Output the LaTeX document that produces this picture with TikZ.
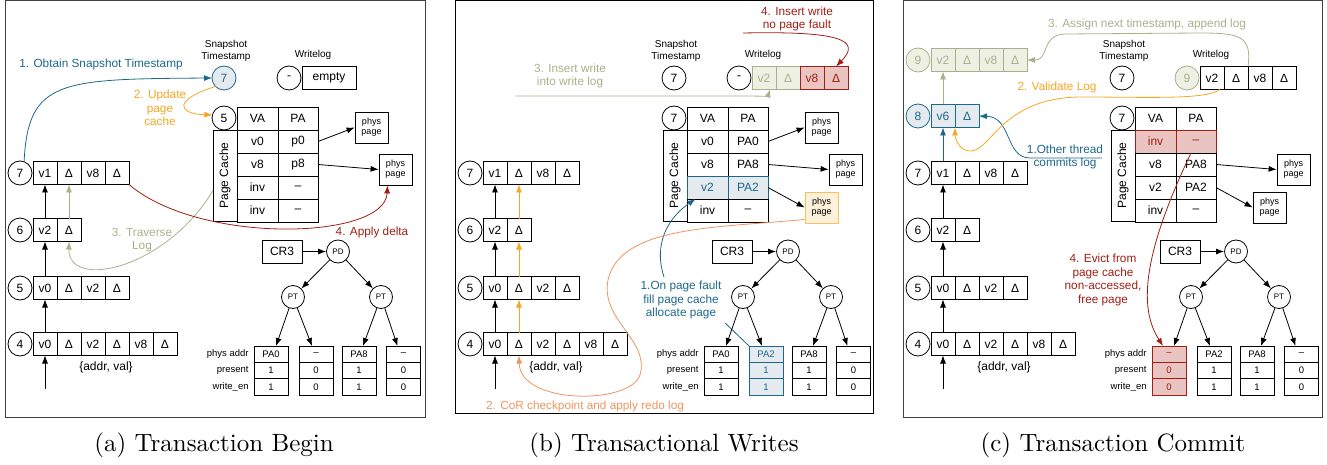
\documentclass[tikz,border=0pt]{standalone}
\usepackage{fontspec}
\newfontfamily\diagfont{Liberation Sans}
\newfontfamily\capfont{lmroman10-regular.otf}
\usetikzlibrary{arrows.meta,positioning}

\definecolor{stepblue}{RGB}{28,104,140}
\definecolor{blueFill}{RGB}{228,234,238}
\definecolor{updorange}{RGB}{245,166,35}
\definecolor{corange}{RGB}{238,148,95}
\definecolor{pageOrange}{RGB}{247,190,100}
\definecolor{pageFill}{RGB}{253,241,218}
\definecolor{dred}{RGB}{160,30,20}
\definecolor{redFill}{RGB}{234,196,192}
\definecolor{logolive}{RGB}{172,175,138}
\definecolor{oliveFill}{RGB}{238,240,228}

\newcommand\dgcell{\diagfont\fontsize{12}{14}\selectfont}
\newcommand\dgnote{\diagfont\fontsize{11.8}{13.7}\selectfont}
\newcommand\dglab{\diagfont\fontsize{10}{11.5}\selectfont}
\newcommand\dgsmall{\diagfont\fontsize{9}{10}\selectfont}
\newcommand\dgtiny{\diagfont\fontsize{8}{9}\selectfont}

% version row: circle + cells
\newcommand\verrow[7][]{%
  \node[ver,#7,#1] (#2) at (#3,#4) {#5};
  \foreach \t [count=\i] in {#6}
    \node[cell,#7] (#2-\i) at (#3+1+24*\i,#4) {\t};
}
% page cache row: VA | PA
\newcommand\pcrow[6]{%
  \node[pcell,#6] (#1-1) at (#2+20.5,#3) {#4};
  \node[pcell,#6,minimum width=40] (#1-2) at (#2+61,#3) {#5};
}
% page table leaf: phys addr / present / write_en
\newcommand\leafcol[6]{%
  \node[leaf,#6] (#1-1) at (#2,354.2) {#3};
  \node[leaf,#6] (#1-2) at (#2,370.6) {#4};
  \node[leaf,#6] (#1-3) at (#2,387) {#5};
}

\begin{document}
\begin{tikzpicture}[x=1pt,y=-1pt,font=\diagfont,line width=0.8pt,
    >={Latex[length=8pt,width=6pt]}]
    \tikzset{cell/.style={draw, minimum width=24, minimum height=23
    , inner sep=0, outer sep=0, font=\dgcell
      },
    ver/.style={draw, circle, minimum size=24, inner sep=0, outer sep=0, font=\dgcell},
    pcell/.style={draw, minimum width=41, minimum height=23, inner sep=0, outer sep=0, font=\dgcell},
    pcl/.style={draw, minimum width=24, minimum height=91, inner sep=0, outer sep=0, font=\dgcell},
    page/.style={draw, minimum width=33, minimum height=31, inner sep=0, align=center, font=\dgsmall},
    leaf/.style={draw, minimum width=34, minimum height=16.4, inner sep=0, outer sep=0, font=\diagfont\fontsize{9.5}{11}\selectfont},
    tnode/.style={draw, circle, minimum size=23, inner sep=0, font=\dgtiny},
    box/.style={draw, minimum width=40, minimum height=23, inner sep=0, font=\dgcell},
    rowlab/.style={anchor=east, inner sep=0, font=\diagfont\fontsize{9.5}{11}\selectfont},
    note/.style={align=center, font=\dgnote},
    capt/.style={font=\capfont\fontsize{25}{29}\selectfont},
    frame/.style={draw=black!75, line width=1pt},
    blueS/.style={draw=stepblue, fill=blueFill, text=stepblue},
    oliveS/.style={draw=logolive, fill=oliveFill, text=logolive},
    redS/.style={draw=dred, fill=redFill, text=dred},
    pageS/.style={draw=pageOrange, fill=pageFill}
    }

\useasboundingbox (0,0) rectangle (1327,465);

% frames
\draw[frame] (5,1) rectangle (425,417);
\draw[frame,draw=black] (455,1) rectangle (873,413);
\draw[frame] (903,1) rectangle (1322,417);

% parts shared by the three panels
\foreach \p/\ox/\pcn in {a/0/5,b/450/7,c/898/7} {
  \begin{scope}[xshift=\ox]
    \verrow{\p-r4}{20}{344}{4}{v0,Δ,v2,Δ,v8,Δ}{}
    \verrow{\p-r5}{20}{288}{5}{v0,Δ,v2,Δ}{}
    \verrow{\p-r6}{20}{230}{6}{v2,Δ}{}
    \verrow{\p-r7}{20}{173}{7}{v1,Δ,v8,Δ}{}
    \node[font=\dgcell] (\p-kv) at (106,367) {\{addr, val\}};
    \coordinate (\p-in) at (45,389);
    \path[draw, ->] (\p-in) -- (\p-r4-1.south);
    \path[draw, ->] (\p-r4-1.north) -- (\p-r5-1.south);
    \path[draw, ->] (\p-r5-1.north) -- (\p-r6-1.south);
    \path[draw, ->] (\p-r6-1.north) -- (\p-r7-1.south);

    \node[align=center, font=\dglab] (\p-snl) at (226,51) {Snapshot\\Timestamp};
    \node[font=\dglab] (\p-wll) at (313,55) {Writelog};

    \node[ver] (\p-pcv) at (224,118) {\pcn};
    \node[pcl] (\p-pcl) at (225,175.5) {\rotatebox{90}{Page Cache}};
    \pcrow{\p-pch}{237}{118.5}{VA}{PA}{}

    \node[box] (\p-cr3) at (282,251.5) {CR3};
    \node[tnode] (\p-pd) at (338,251.5) {PD};
    \node[tnode] (\p-ptl) at (293,297) {PT};
    \node[tnode] (\p-ptr) at (381,297) {PT};
    \path[draw, ->] (\p-cr3) -- (\p-pd);
    \path[draw, ->] (\p-pd) -- (\p-ptl);
    \path[draw, ->] (\p-pd) -- (\p-ptr);
    \node[rowlab] (\p-lb1) at (249,354.2) {phys addr};
    \node[rowlab] (\p-lb2) at (249,370.6) {present};
    \node[rowlab] (\p-lb3) at (249,387) {write\_en};
  \end{scope}
}

%% (a) Transaction Begin
\node[ver,blueS] (a-snap) at (224,78) {7};
\node[ver] (a-wlv) at (289,78) {-};
\node[cell, minimum width=54, right=1pt of a-wlv] (a-wl) {empty};
\pcrow{a-pc1}{237}{141.5}{v0}{p0}{}
\pcrow{a-pc2}{237}{164.5}{v8}{p8}{}
\pcrow{a-pc3}{237}{187.5}{inv}{–}{}
\pcrow{a-pc4}{237}{210.5}{inv}{–}{}
\node[page] (a-pg1) at (371.5,127.5) {phys\\page};
\node[page] (a-pg2) at (395.5,169.5) {phys\\page};
\path[draw, ->] (a-pc1-2.east) -- (a-pg1.west);
\path[draw, ->] (a-pc2-2.east) -- (a-pg2.west);
\leafcol{a-l1}{271}{PA0}{1}{1}{}
\leafcol{a-l2}{316}{–}{0}{0}{}
\leafcol{a-l3}{359}{PA8}{1}{1}{}
\leafcol{a-l4}{403.5}{–}{0}{0}{}
\path[draw, ->, logolive] (a-r6-2.north) -- (a-r7-2.south);

\node[note, text=stepblue] (a-n1) at (101,64) {1. Obtain Snapshot Timestamp};
\draw[->, stepblue] (a-r7.70) .. controls (28,80) and (60,79) .. (a-snap.west);
\node[note, text=updorange] (a-n2) at (160,108) {2. Update\\page\\cache};
\draw[->, updorange] (a-snap.south west) .. controls (172,100) and (178,114) .. (a-pcv.165);
\node[note, text=logolive] (a-n3) at (142,240) {3. Traverse\\Log};
\draw[->, logolive] ([yshift=-15pt]a-pcl.west) .. controls (165,270) and (68,290) .. (a-r6-2.south);
\node[note, text=dred] (a-n4) at (372,232) {4. Apply delta};
\draw[->, dred] (a-r7-4.south east) .. controls (200,245) and (385,240) .. ([xshift=-8pt]a-pg2.south);

%% (b) Transactional Writes
\node[ver] (b-snap) at (674,78) {7};
\node[ver] (b-wlv) at (739,78) {-};
\node[cell, oliveS, right=1pt of b-wlv] (b-wl1) {v2};
\node[cell, oliveS, right=0pt of b-wl1] (b-wl2) {Δ};
\node[cell, redS, right=0pt of b-wl2] (b-wl3) {v8};
\node[cell, redS, right=0pt of b-wl3] (b-wl4) {Δ};
\pcrow{b-pc1}{687}{141.5}{v0}{PA0}{}
\pcrow{b-pc2}{687}{164.5}{v8}{PA8}{}
\pcrow{b-pc3}{687}{187.5}{v2}{PA2}{blueS}
\pcrow{b-pc4}{687}{210.5}{inv}{–}{}
\node[page] (b-pg1) at (821.5,127.5) {phys\\page};
\node[page] (b-pg2) at (845.5,169.5) {phys\\page};
\node[page, pageS] (b-pg3) at (821.5,207.5) {phys\\page};
\path[draw, ->] (b-pc1-2.east) -- (b-pg1.west);
\path[draw, ->] (b-pc2-2.east) -- (b-pg2.west);
\path[draw, ->] (b-pc3-2.east) -- (b-pg3.west);
\leafcol{b-l1}{721}{PA0}{1}{1}{}
\leafcol{b-l2}{766}{PA2}{1}{1}{blueS}
\leafcol{b-l3}{809}{PA8}{1}{1}{}
\leafcol{b-l4}{853.5}{–}{0}{0}{}
\path[draw, ->, updorange] (b-r4-2.north) -- (b-r5-2.south);
\path[draw, ->, updorange] (b-r5-2.north) -- (b-r6-2.south);
\path[draw, ->, updorange] (b-r6-2.north) -- (b-r7-2.south);

\node[note, text=stepblue] (b-n1) at (681,300) {1.On page fault\\fill page cache\\allocate page};
\draw[->, stepblue] ([xshift=-17pt]b-n1.north) .. controls (652,240) and (672,215) .. ([xshift=-12pt]b-pc3-1.south);
\draw[stepblue] (b-n1.south east) -- (b-l2-1.north west);
\node[note, text=corange] (b-n2) at (585,406) {2. CoR checkpoint and apply redo log};
\draw[->, corange] ([yshift=4pt]b-pg3.south west) .. controls (720,228) and (620,225) .. (608,280)
  .. controls (600,320) and (650,340) .. (640,375) .. controls (630,405) and (520,405) .. (b-r4-2.south);
\node[note, text=logolive] (b-n3) at (570,76) {3. Insert write\\into write log};
\coordinate (b-n3s) at (515,96);
\draw[->, logolive] (b-n3s) -- (700,96) .. controls (755,96) and (768,96) .. ([xshift=6pt]b-wl1.south);
\node[note, text=dred] (b-n4) at (797,19) {4. Insert write\\no page fault};
\coordinate (b-n4s) at (743,33);
\draw[->, dred] (b-n4s) .. controls (840,31) and (862,40) .. (b-wl4.north);

%% (c) Transaction Commit
\verrow{c-r8}{918}{116}{8}{v6,Δ}{blueS}
\verrow{c-r9}{918}{60}{9}{v2,Δ,v8,Δ}{oliveS}
\path[draw, ->, stepblue] (c-r7-1.north) -- (c-r8-1.south);
\path[draw, ->, logolive] (c-r8-1.north) -- (c-r9-1.south);
\node[ver] (c-snap) at (1122,78) {7};
\verrow[oliveS]{c-wl}{1187}{78}{9}{v2,Δ,v8,Δ}{}
\pcrow{c-pc1}{1135}{141.5}{inv}{–}{redS}
\pcrow{c-pc2}{1135}{164.5}{v8}{PA8}{}
\pcrow{c-pc3}{1135}{187.5}{v2}{PA2}{}
\pcrow{c-pc4}{1135}{210.5}{inv}{–}{}
\node[page] (c-pg2) at (1293.5,169.5) {phys\\page};
\node[page] (c-pg3) at (1269.5,207.5) {phys\\page};
\path[draw, ->] (c-pc2-2.east) -- (c-pg2.west);
\path[draw, ->] (c-pc3-2.east) -- (c-pg3.west);
\leafcol{c-l1}{1169}{–}{0}{0}{redS}
\leafcol{c-l2}{1214}{PA2}{1}{1}{}
\leafcol{c-l3}{1257}{PA8}{1}{1}{}
\leafcol{c-l4}{1301.5}{–}{0}{0}{}

\node[note, text=stepblue] (c-n1) at (1065,157) {1.Other thread\\commits log};
\coordinate (c-n1s) at (1102,158);
\draw[->, stepblue] (c-n1s) -- (1030,158) .. controls (1005,158) and (1012,117) .. (c-r8-2.east);
\node[note, text=updorange] (c-n2) at (1057,87) {2. Validate Log};
\draw[->, updorange] ([xshift=8pt]c-wl-1.south) .. controls (1205,100) and (1150,97) .. (1080,97)
  .. controls (995,98) and (990,160) .. (965,150) .. controls (958,147) and (955,138) .. (c-r8-2.south west);
\node[note, text=logolive] (c-n3) at (1147,24) {3. Assign next timestamp, append log};
\draw[->, logolive] (c-wl-2.north east) .. controls (1252,36) and (1240,33) .. (1200,33) -- (1065,34)
  .. controls (1040,35) and (1050,60) .. (c-r9-4.east);
\node[note, text=dred] (c-n4) at (1103,280) {4. Evict from\\page cache\\non-accessed,\\free page};
\draw[->, dred] ([xshift=-5pt]c-pc1-2.south) .. controls (1140,260) and (1140,310) .. ([xshift=-6pt]c-l1-1.north);

% page table arrows
\foreach \p in {a,b,c} {
  \path[draw, ->] (\p-ptl) -- ([xshift=5pt]\p-l1-1.north);
  \path[draw, ->] (\p-ptl) -- ([xshift=-4pt]\p-l2-1.north);
  \path[draw, ->] (\p-ptr) -- ([xshift=4pt]\p-l3-1.north);
  \path[draw, ->] (\p-ptr) -- ([xshift=-6pt]\p-l4-1.north);
}

% captions
\node[capt] (a-cap) at (214,445) {(a) Transaction Begin};
\node[capt] (b-cap) at (664,445) {(b) Transactional Writes};
\node[capt] (c-cap) at (1113,445) {(c) Transaction Commit};
\end{tikzpicture}
\end{document}
